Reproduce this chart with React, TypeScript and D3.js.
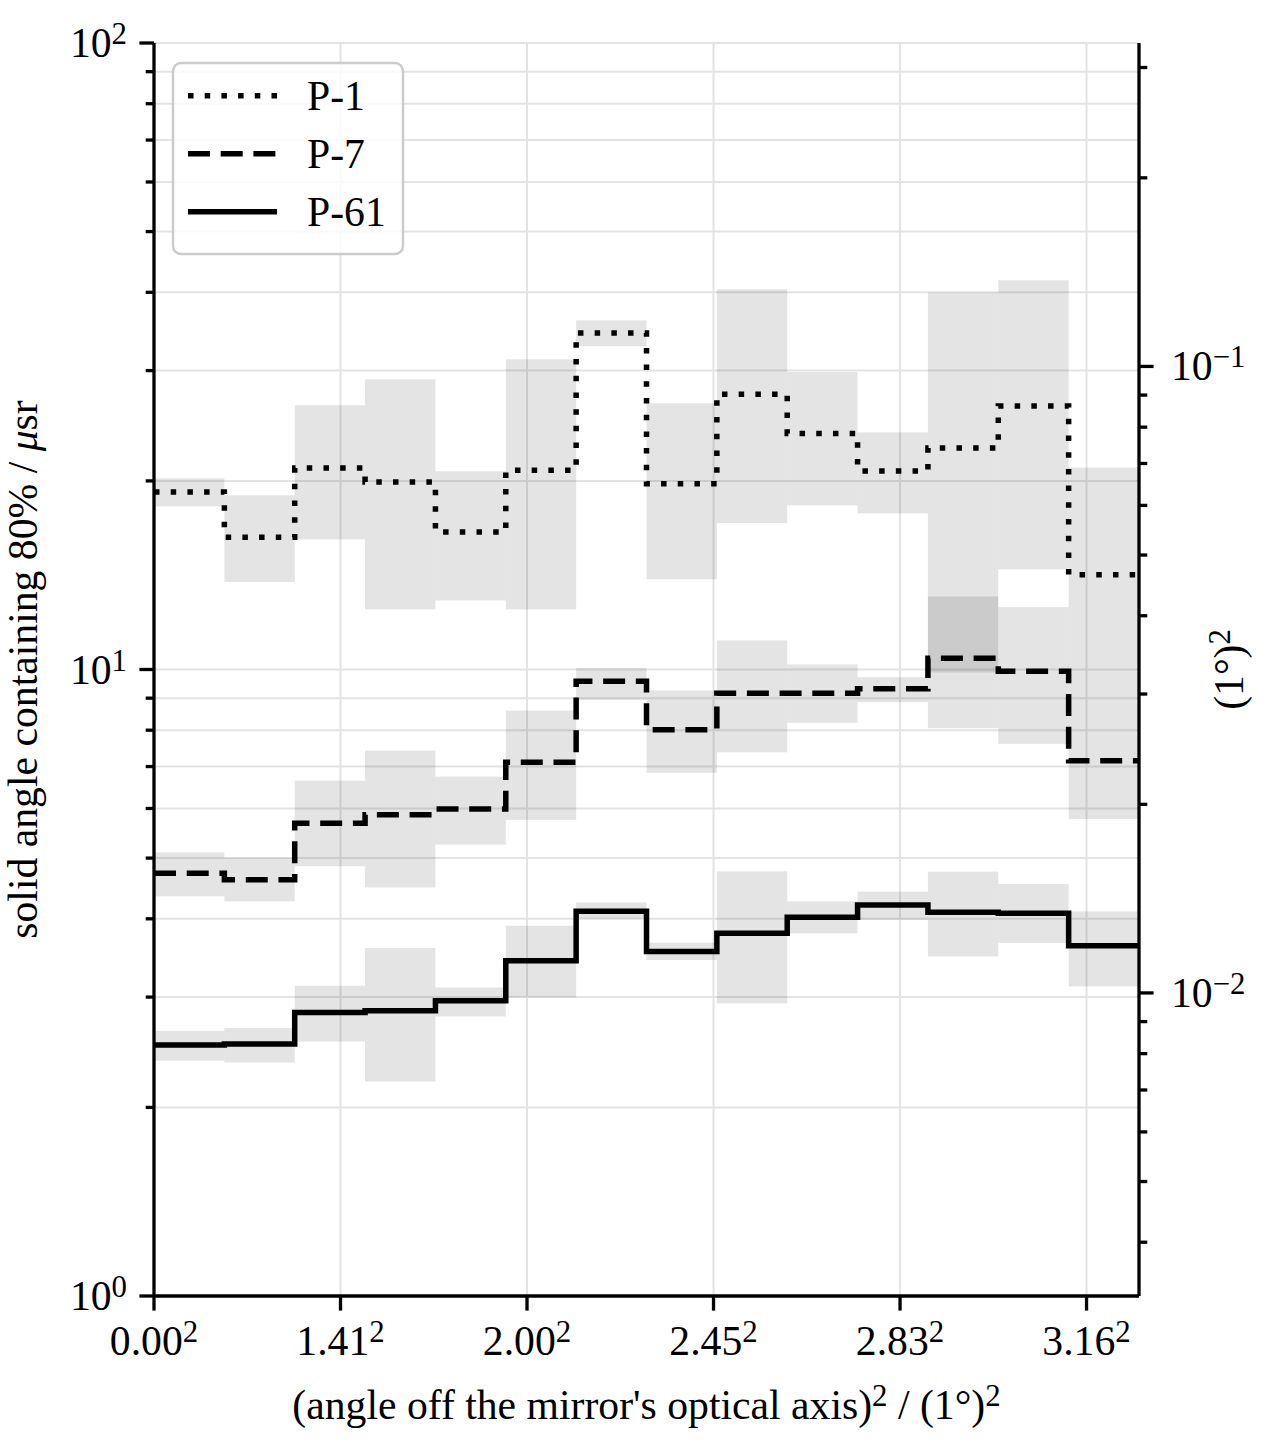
import React from 'react';
import * as d3 from 'd3';

// ---------- data ----------
// bin edges in (deg)^2
const binEdges = [0, 0.7545, 1.5089, 2.2634, 3.0179, 3.7723, 4.5268, 5.2813, 6.0357, 6.7902, 7.5446, 8.2991, 9.0536, 9.808, 10.5625];

// P-1 (dotted)
const p1Value = [19.2, 16.26, 20.97, 19.92, 16.57, 20.79, 34.45, 19.8, 27.5, 23.8, 20.75, 22.57, 26.34, 14.16];
const p1Low = [18.21, 13.79, 16.13, 12.47, 12.89, 12.47, 32.81, 13.93, 17.13, 18.28, 17.75, 9.89, 14.45, 8.63];
const p1High = [20.19, 18.97, 26.41, 29.06, 20.72, 31.27, 36.09, 26.6, 40.46, 29.85, 23.91, 39.97, 41.82, 21.0];

// P-7 (dashed)
const p7Value = [4.727, 4.618, 5.681, 5.866, 5.991, 7.109, 9.579, 8.013, 9.166, 9.166, 9.316, 10.42, 9.938, 7.154];
const p7Low = [4.344, 4.265, 4.851, 4.49, 5.254, 5.754, 8.944, 6.839, 7.377, 8.22, 8.867, 8.059, 7.608, 5.775];
const p7High = [5.107, 5.009, 6.647, 7.422, 6.746, 8.6, 10.06, 9.258, 11.13, 10.19, 9.721, 13.08, 12.58, 8.63];

// P-61 (solid)
const p61Value = [2.515, 2.524, 2.835, 2.853, 2.96, 3.428, 4.111, 3.548, 3.792, 4.022, 4.208, 4.096, 4.081, 3.624];
const p61Low = [2.374, 2.359, 2.548, 2.199, 2.794, 2.996, 4.002, 3.438, 2.931, 3.792, 3.983, 3.483, 3.66, 3.12];
const p61High = [2.65, 2.677, 3.128, 3.593, 3.108, 3.9, 4.249, 3.664, 4.762, 4.265, 4.419, 4.757, 4.547, 4.111];

const seriesNames = ['P-1', 'P-7', 'P-61'];

const xTickValues = [0, 2, 4, 6, 8, 10];
const xTickLabels = ['0.00', '1.41', '2.00', '2.45', '2.83', '3.16'];

const yLeftMajor = [1, 10, 100];
const yLeftMajorExp = ['0', '1', '2'];
const yRightMajor = [0.01, 0.1];
const yRightMajorExp = ['\u22122', '\u22121'];

// micro-steradian per square degree
const USR_PER_DEG2 = 304.617;

// ---------- layout ----------
const W = 1280;
const H = 1440;
const L = 154;
const R = 1139;
const T = 43;
const B = 1296;
const FS = 41.7;
const SUP = FS * 0.74;
const SUPDY = 13;
const FONT = "'Liberation Serif', 'Times New Roman', 'DejaVu Serif', serif";
const LW = 5.5;
const styles: Record<string, string | undefined> = {
  'P-1': '5.5 11.2',
  'P-7': '22 10.7',
  'P-61': undefined,
};

export default function App() {
  const x = d3.scaleLinear().domain([0, binEdges[binEdges.length - 1]]).range([L, R]);
  const y = d3.scaleLog().domain([1, 100]).range([B, T]);
  const yR = d3.scaleLog().domain([1 / USR_PER_DEG2, 100 / USR_PER_DEG2]).range([B, T]);

  const series = [
    { name: seriesNames[0], v: p1Value, lo: p1Low, hi: p1High },
    { name: seriesNames[1], v: p7Value, lo: p7Low, hi: p7High },
    { name: seriesNames[2], v: p61Value, lo: p61Low, hi: p61High },
  ];

  const leftTicks = y.ticks();
  const leftMinor = leftTicks.filter((t) => !yLeftMajor.some((m) => Math.abs(m - t) < 1e-9));
  const rightTicks = yR.ticks();
  const rightMinor = rightTicks.filter((t) => !yRightMajor.some((m) => Math.abs(m - t) / m < 1e-6));

  const stepPath = (vals: number[]) => {
    let d = `M${x(binEdges[0])},${y(vals[0])}`;
    vals.forEach((v, i) => {
      if (i > 0) d += `V${y(v)}`;
      d += `H${x(binEdges[i + 1])}`;
    });
    return d;
  };

  const gridColor = '#e3e3e3';
  const tickW = 3.3;

  return (
    <svg width={W} height={H} style={{ position: 'absolute', left: 0, top: 0, background: '#fff' }} fontFamily={FONT}>
      <rect x={0} y={0} width={W} height={H} fill="#fff" />
      {/* grid */}
      <g stroke={gridColor} strokeWidth={2}>
        {leftTicks.map((t, i) => (
          <line key={'hg' + i} x1={L} x2={R} y1={y(t)} y2={y(t)} />
        ))}
        {xTickValues.map((t, i) => (
          <line key={'vg' + i} x1={x(t)} x2={x(t)} y1={T} y2={B} />
        ))}
      </g>
      {/* bands */}
      <g>
        {series.map((s) =>
          s.v.map((_, i) => (
            <rect
              key={s.name + 'b' + i}
              x={x(binEdges[i])}
              width={x(binEdges[i + 1]) - x(binEdges[i])}
              y={y(s.hi[i])}
              height={y(s.lo[i]) - y(s.hi[i])}
              fill="#000"
              fillOpacity={0.105}
            />
          ))
        )}
      </g>
      {/* lines */}
      <g fill="none" stroke="#000" strokeWidth={LW}>
        {series.map((s) => (
          <path key={s.name} d={stepPath(s.v)} strokeDasharray={styles[s.name]} />
        ))}
      </g>
      {/* spines */}
      <g stroke="#000" strokeWidth={tickW} fill="none">
        <line x1={L} x2={L} y1={T} y2={B} />
        <line x1={R} x2={R} y1={T} y2={B} />
        <line x1={L} x2={R} y1={B} y2={B} />
      </g>
      {/* ticks */}
      <g stroke="#000" strokeWidth={tickW}>
        {yLeftMajor.map((t, i) => (
          <line key={'lm' + i} x1={L - 14.6} x2={L} y1={y(t)} y2={y(t)} />
        ))}
        {leftMinor.map((t, i) => (
          <line key={'ln' + i} x1={L - 8.3} x2={L} y1={y(t)} y2={y(t)} />
        ))}
        {yRightMajor.map((t, i) => (
          <line key={'rm' + i} x1={R} x2={R + 14.6} y1={yR(t)} y2={yR(t)} />
        ))}
        {rightMinor.map((t, i) => (
          <line key={'rn' + i} x1={R} x2={R + 8.3} y1={yR(t)} y2={yR(t)} />
        ))}
        {xTickValues.map((t, i) => (
          <line key={'xt' + i} x1={x(t)} x2={x(t)} y1={B} y2={B + 14.6} />
        ))}
      </g>
      {/* tick labels */}
      <g fontSize={FS} fill="#000">
        {yLeftMajor.map((t, i) => (
          <text key={'ll' + i} x={127} y={y(t) + 14} textAnchor="end">
            10<tspan fontSize={SUP} dy={-SUPDY}>{yLeftMajorExp[i]}</tspan>
          </text>
        ))}
        {yRightMajor.map((t, i) => (
          <text key={'rl' + i} x={1171} y={yR(t) + 14} textAnchor="start">
            10<tspan fontSize={SUP} dy={-SUPDY}>{yRightMajorExp[i]}</tspan>
          </text>
        ))}
        {xTickValues.map((t, i) => (
          <text key={'xl' + i} x={x(t)} y={1355} textAnchor="middle">
            {xTickLabels[i]}
            <tspan fontSize={SUP} dy={-SUPDY}>2</tspan>
          </text>
        ))}
      </g>
      {/* axis labels */}
      <g fontSize={FS} fill="#000">
        <text x={(L + R) / 2} y={1419} textAnchor="middle">
          (angle off the mirror's optical axis)
          <tspan fontSize={SUP} dy={-SUPDY}>2</tspan>
          <tspan dy={SUPDY}>{' / (1\u00b0)'}</tspan>
          <tspan fontSize={SUP} dy={-SUPDY}>2</tspan>
        </text>
        <text transform={`translate(37,${(T + B) / 2}) rotate(-90)`} textAnchor="middle">
          {'solid angle containing 80% / '}
          <tspan fontStyle="italic">{'\u03bc'}</tspan>
          sr
        </text>
        <text transform={`translate(1243,${(T + B) / 2}) rotate(-90)`} textAnchor="middle">
          {'(1\u00b0)'}
          <tspan fontSize={SUP} dy={-SUPDY}>2</tspan>
        </text>
      </g>
      {/* legend */}
      <g>
        <rect x={173} y={63} width={230} height={191} rx={8} ry={8} fill="#fff" fillOpacity={0.8} stroke="#cccccc" strokeWidth={2.5} />
        {series.map((s, i) => {
          const ry = 95.7 + i * 58;
          return (
            <g key={'lg' + i}>
              <line x1={188} x2={277} y1={ry} y2={ry} stroke="#000" strokeWidth={LW} strokeDasharray={styles[s.name]} />
              <text x={307} y={ry + 14} fontSize={FS} fill="#000">
                {s.name}
              </text>
            </g>
          );
        })}
      </g>
    </svg>
  );
}
